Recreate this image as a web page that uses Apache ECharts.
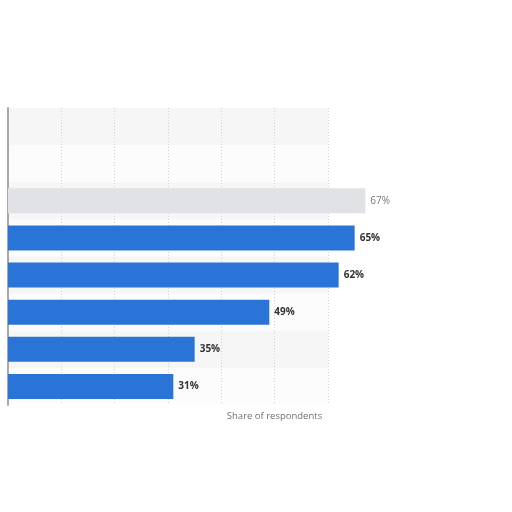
<!DOCTYPE html>
<html>
<head>
<meta charset="utf-8">
<script src="https://cdn.jsdelivr.net/npm/echarts@6/dist/echarts.min.js"></script>
<style>html,body{margin:0;padding:0;background:#fff}#c{width:512px;height:512px}</style>
</head>
<body>
<div id="c"></div>
<script>
const categories = ['Item 1','Item 2','Item 3','Item 4','Item 5','Item 6','Item 7','Item 8'];
const shares = [null, null, 67, 65, 62, 49, 35, 31];
const blurred = [true, true, true, false, false, false, false, false];
const xTicks = [0, 10, 20, 30, 40, 50, 60];

const chart = echarts.init(document.getElementById('c'));
chart.setOption({
  animation: false,
  grid: { left: 8, top: 108, width: 320, height: 297, containLabel: false },
  xAxis: {
    type: 'value', min: xTicks[0], max: xTicks[xTicks.length - 1], interval: 10,
    axisLine: { show: false }, axisTick: { show: false }, axisLabel: { show: false },
    splitLine: { show: true, lineStyle: { color: '#d2d2d2', type: [1, 2], width: 1 } },
    name: 'Share of respondents', nameLocation: 'middle', nameGap: 6,
    nameTextStyle: { color: '#707070', fontSize: 9.5, fontFamily: 'Open Sans', padding: [0, 0, 0, 213], verticalAlign: 'top' }
  },
  yAxis: {
    type: 'category', data: categories, inverse: true,
    axisLine: { show: true, lineStyle: { color: '#a8a8a8', width: 2 } },
    axisTick: { show: false }, axisLabel: { show: false },
    splitArea: { show: true, areaStyle: { color: ['#f6f6f6', '#fcfcfc'] } }
  },
  series: [{
    type: 'bar', barWidth: 25, clip: false,
    data: shares.map((v, i) => ({
      value: v,
      itemStyle: { color: blurred[i] ? '#e0e2e6' : '#2a74d8' },
      label: { color: blurred[i] ? '#777' : '#333', fontWeight: blurred[i] ? 'normal' : 'bold' }
    })),
    label: {
      show: true, position: 'right', distance: 5,
      fontSize: 10, fontFamily: 'Open Sans',
      formatter: p => p.value == null ? '' : p.value + '%'
    }
  }]
});
</script>
</body>
</html>
